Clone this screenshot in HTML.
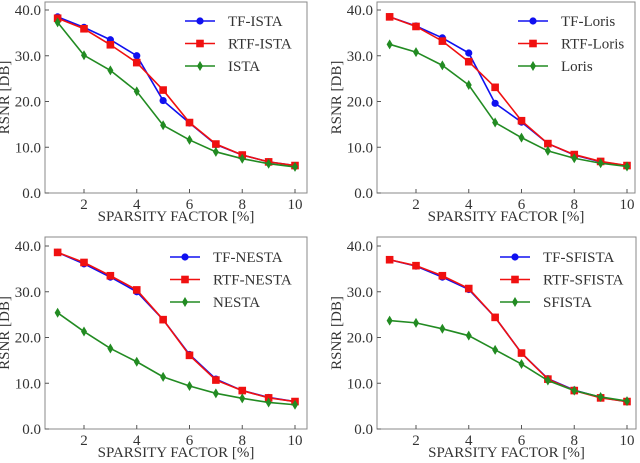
<!DOCTYPE html>
<html><head><meta charset="utf-8"><style>
body{margin:0;background:#fff;}
svg{display:block;font-family:"Liberation Serif",serif;}
</style></head><body>
<svg id="chart" width="640" height="463" xmlns="http://www.w3.org/2000/svg"></svg>
<script>
const xCats=[1,2,3,4,5,6,7,8,9,10];
const xTicks=[2,4,6,8,10];
const yTicks=[0,10,20,30,40];
const names=[["TF-ISTA","RTF-ISTA","ISTA"],["TF-Loris","RTF-Loris","Loris"],["TF-NESTA","RTF-NESTA","NESTA"],["TF-SFISTA","RTF-SFISTA","SFISTA"]];
const istaTF=[38.5,36.2,33.5,30,20.2,15.3,10.6,8.3,6.8,6.0];
const istaRTF=[38.2,35.9,32.4,28.5,22.5,15.4,10.7,8.3,6.8,6.0];
const istaBase=[37.3,30.1,26.8,22.2,14.8,11.6,9.0,7.5,6.4,5.7];
const lorisTF=[38.5,36.5,33.9,30.6,19.6,15.5,10.8,8.3,6.8,6.0];
const lorisRTF=[38.5,36.4,33.2,28.7,23.1,15.8,10.8,8.4,6.9,6.0];
const lorisBase=[32.5,30.8,27.9,23.6,15.4,12.1,9.2,7.6,6.5,5.8];
const nestaTF=[38.6,36.1,33.2,30.0,23.9,16.3,10.9,8.4,6.9,6.0];
const nestaRTF=[38.6,36.4,33.5,30.4,23.9,16.1,10.7,8.4,6.8,6.0];
const nestaBase=[25.4,21.3,17.6,14.7,11.4,9.4,7.8,6.7,5.8,5.3];
const sfTF=[37.0,35.6,33.2,30.5,24.4,16.6,11.0,8.5,6.9,6.0];
const sfRTF=[37.0,35.7,33.5,30.7,24.4,16.6,10.9,8.4,6.8,6.0];
const sfBase=[23.7,23.2,21.9,20.4,17.3,14.2,10.6,8.4,7.0,6.1];
const seriesSets=[[istaTF,istaRTF,istaBase],[lorisTF,lorisRTF,lorisBase],[nestaTF,nestaRTF,nestaBase],[sfTF,sfRTF,sfBase]];

const NS="http://www.w3.org/2000/svg";
const svg=document.getElementById('chart');
function mk(tag,attrs,parent){const e=document.createElementNS(NS,tag);for(const k in attrs)e.setAttribute(k,attrs[k]);parent.appendChild(e);return e;}
const panels=[
 {L:45,R:307,T:2,B:193,x2:84,x10:295,y0:193,y40:10,lx:185,ly:21},
 {L:377,R:635,T:2,B:193,x2:416,x10:627,y0:193,y40:10,lx:518,ly:21},
 {L:45,R:307,T:237,B:429,x2:84,x10:295,y0:429,y40:246,lx:170,ly:257},
 {L:377,R:636,T:237,B:429,x2:416,x10:627,y0:429,y40:246,lx:500,ly:257}];
const colors=["#1010f0","#f01010","#228b22"];
panels.forEach((p,pi)=>{
 const g=mk('g',{},svg);
 
 
 const xs=v=>p.x2+(v-2)*(p.x10-p.x2)/8;
 const ys=v=>p.y0+(v)*(p.y40-p.y0)/40;
 const fr=mk('rect',{x:p.L,y:p.T,width:p.R-p.L,height:p.B-p.T,fill:'none',stroke:'#888','stroke-width':1},g);
 
 xTicks.forEach(t=>{
  mk('line',{x1:xs(t),x2:xs(t),y1:p.B,y2:p.B-4,stroke:'#555'},g);
  const tx=mk('text',{x:xs(t),y:p.B+16,'text-anchor':'middle','font-size':15,fill:'#333'},g);
  tx.textContent=t;
  
 });
 yTicks.forEach(t=>{
  mk('line',{x1:p.L,x2:p.L+4,y1:ys(t),y2:ys(t),stroke:'#555'},g);
  const tx=mk('text',{x:p.L-4,y:ys(t)+5,'text-anchor':'end','font-size':15,fill:'#333'},g);
  tx.textContent=t.toFixed(1);
  
 });
 const xl=mk('text',{x:(p.L+p.R)/2,y:p.B+28,'text-anchor':'middle','font-size':15,fill:'#333'},g);
 xl.textContent='SPARSITY FACTOR [%]';
 
 const cy=(p.T+p.B)/2, cx=p.L-36;
 const yl=mk('text',{x:cx,y:cy,'text-anchor':'middle','font-size':15,fill:'#333',transform:`rotate(-90 ${cx} ${cy})`},g);
 yl.textContent='RSNR [DB]';
 
 seriesSets[pi].forEach((vals,si)=>{
  const sg=mk('g',{},g);
  
  
  mk('polyline',{points:vals.map((v,i)=>xs(xCats[i])+','+ys(v)).join(' '),fill:'none',stroke:colors[si],'stroke-width':1.6},sg);
  vals.forEach((v,i)=>{
   const x=xs(xCats[i]),y=ys(v);let m;
   if(si===0)m=mk('circle',{cx:x,cy:y,r:3.6,fill:colors[si]},sg);
   else if(si===1)m=mk('rect',{x:x-3.8,y:y-3.8,width:7.6,height:7.6,fill:colors[si]},sg);
   else m=mk('polygon',{points:`${x},${y-5} ${x+3},${y} ${x},${y+5} ${x-3},${y}`,fill:colors[si]},sg);
   
  });
 });
 names[pi].forEach((n,si)=>{
  const y=p.ly+si*22.5, lx=p.lx;
  const lg=mk('g',{},g);
  
  mk('line',{x1:lx,x2:lx+30,y1:y,y2:y,stroke:colors[si],'stroke-width':1.6},lg);
  const x=lx+15;
  if(si===0)mk('circle',{cx:x,cy:y,r:3.6,fill:colors[si]},lg);
  else if(si===1)mk('rect',{x:x-3.8,y:y-3.8,width:7.6,height:7.6,fill:colors[si]},lg);
  else mk('polygon',{points:`${x},${y-5} ${x+3},${y} ${x},${y+5} ${x-3},${y}`,fill:colors[si]},lg);
  const t=mk('text',{x:lx+43,y:y+5,'font-size':15,fill:'#333'},lg);
  t.textContent=n;
 });
});
</script>
</body></html>
